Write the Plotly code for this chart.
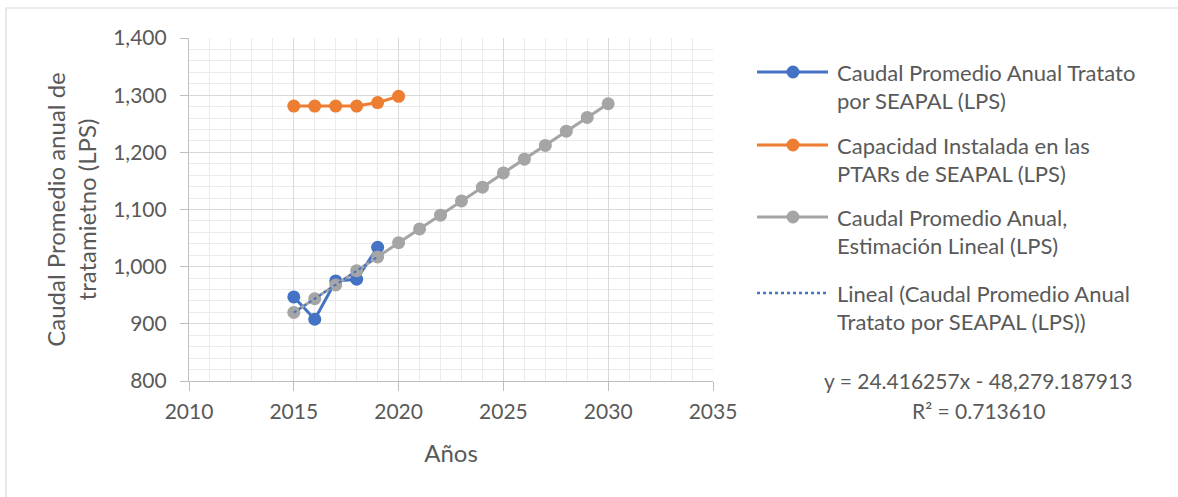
import plotly.graph_objects as go

# ---------------- data ----------------
years_real = [2015, 2016, 2017, 2018, 2019]
caudal_real = [947, 908, 975, 978, 1034]

years_cap = [2015, 2016, 2017, 2018, 2019, 2020]
capacidad = [1281, 1281, 1281, 1281, 1287, 1298]

years_est = list(range(2015, 2031))
caudal_est = [920, 944, 968, 993, 1017, 1042, 1066, 1090, 1115, 1139,
              1164, 1188, 1212, 1237, 1261, 1285]

trend_slope = 24.416257
trend_intercept = -48279.187913
trend_r2 = 0.713610

legend_labels = [
    ["Caudal Promedio Anual Tratato", "por SEAPAL (LPS)"],
    ["Capacidad Instalada en las", "PTARs de SEAPAL (LPS)"],
    ["Caudal Promedio Anual,", "Estimación Lineal (LPS)"],
    ["Lineal (Caudal Promedio Anual", "Tratato por SEAPAL (LPS))"],
]

# ---------------- styles ----------------
BLUE = "#4472C4"
ORANGE = "#ED7D31"
GRAY = "#A5A5A5"
TXT = "#595959"
FONT = "Lato"
FS_TICK = 21
FS_LEG = 22
FS_EQ = 21
FS_TITLE = 24

W, H = 1178, 497
L, R, T, B = 189, 713, 38, 381   # plot area in pixels


def px(x):
    return (x - L) / (R - L)


def py(y):
    return (B - y) / (B - T)


fig = go.Figure()

fig.add_trace(go.Scatter(x=years_real, y=caudal_real, mode="lines+markers",
                         line=dict(color=BLUE, width=3),
                         marker=dict(color=BLUE, size=13),
                         showlegend=False))
fig.add_trace(go.Scatter(x=years_cap, y=capacidad, mode="lines+markers",
                         line=dict(color=ORANGE, width=3),
                         marker=dict(color=ORANGE, size=13),
                         showlegend=False))
fig.add_trace(go.Scatter(x=years_est, y=caudal_est, mode="lines+markers",
                         line=dict(color=GRAY, width=3),
                         marker=dict(color=GRAY, size=13),
                         showlegend=False))
trend_x = [years_real[0], years_real[-1]]
trend_y = [trend_slope * x + trend_intercept for x in trend_x]
fig.add_trace(go.Scatter(x=trend_x, y=trend_y, mode="lines",
                         line=dict(color=BLUE, width=2, dash="dot"),
                         showlegend=False))

shapes = []
annotations = []

# outer chart border
shapes.append(dict(type="rect", xref="paper", yref="paper",
                   x0=px(6), x1=px(W + 5), y0=py(H + 5), y1=py(8),
                   line=dict(color="#D9D9D9", width=1.2), layer="below"))

# custom legend
leg_y = [72, 145, 217, 293]
leg_colors = [BLUE, ORANGE, GRAY, BLUE]
for i, (yy, col, lab) in enumerate(zip(leg_y, leg_colors, legend_labels)):
    if i < 3:
        shapes.append(dict(type="line", xref="paper", yref="paper",
                           x0=px(757), x1=px(828), y0=py(yy), y1=py(yy),
                           line=dict(color=col, width=3)))
        shapes.append(dict(type="circle", xref="paper", yref="paper",
                           xsizemode="pixel", ysizemode="pixel",
                           xanchor=px(793), yanchor=py(yy),
                           x0=-6.5, x1=6.5, y0=-6.5, y1=6.5,
                           fillcolor=col, line=dict(color=col, width=0)))
    else:
        shapes.append(dict(type="line", xref="paper", yref="paper",
                           x0=px(757), x1=px(828), y0=py(yy), y1=py(yy),
                           line=dict(color=col, width=2.5, dash="dot")))
    for j, t in enumerate(lab):
        annotations.append(dict(xref="paper", yref="paper",
                                x=px(835), y=py(yy + 28.5 * j),
                                xanchor="left", yanchor="middle",
                                text=t, showarrow=False,
                                font=dict(family=FONT, size=FS_LEG, color=TXT)))

# trendline equation
annotations.append(dict(xref="paper", yref="paper", x=px(978), y=py(380),
                        xanchor="center", yanchor="middle",
                        text=f"y = {trend_slope:.6f}x - {abs(trend_intercept):,.6f}",
                        showarrow=False,
                        font=dict(family=FONT, size=FS_EQ, color=TXT)))
annotations.append(dict(xref="paper", yref="paper", x=px(978), y=py(410),
                        xanchor="center", yanchor="middle",
                        text=f"R² = {trend_r2:.6f}",
                        showarrow=False,
                        font=dict(family=FONT, size=FS_EQ, color=TXT)))

axis_common = dict(showline=True, linecolor="#BFBFBF", linewidth=1.2,
                   ticks="outside", tickcolor="#BFBFBF",
                   gridcolor="#D9D9D9", gridwidth=1.2, zeroline=False,
                   tickfont=dict(family=FONT, size=FS_TICK, color=TXT),
                   mirror=False)

fig.update_layout(
    width=W, height=H,
    margin=dict(l=L, r=W - R, t=T, b=H - B),
    paper_bgcolor="white", plot_bgcolor="white",
    font=dict(family=FONT, size=FS_TICK, color=TXT),
    shapes=shapes, annotations=annotations,
    showlegend=False,
    xaxis=dict(range=[2010, 2035], dtick=5, tick0=2010, tickformat="d",
               ticklen=9, ticklabelstandoff=3,
               minor=dict(dtick=1, showgrid=True, gridcolor="#EBEBEB",
                          gridwidth=1),
               title=dict(text="Años", standoff=22,
                          font=dict(family=FONT, size=FS_TITLE, color=TXT)),
               **axis_common),
    yaxis=dict(range=[800, 1400], dtick=100, tickformat=",",
               ticklen=8, ticklabelstandoff=9,
               minor=dict(dtick=20, showgrid=True, gridcolor="#EBEBEB",
                          gridwidth=1),
               title=dict(text="Caudal Promedio anual de<br>tratamietno (LPS)",
                          standoff=9,
                          font=dict(family=FONT, size=FS_TITLE, color=TXT)),
               **axis_common),
)

fig.write_html("out.html")
